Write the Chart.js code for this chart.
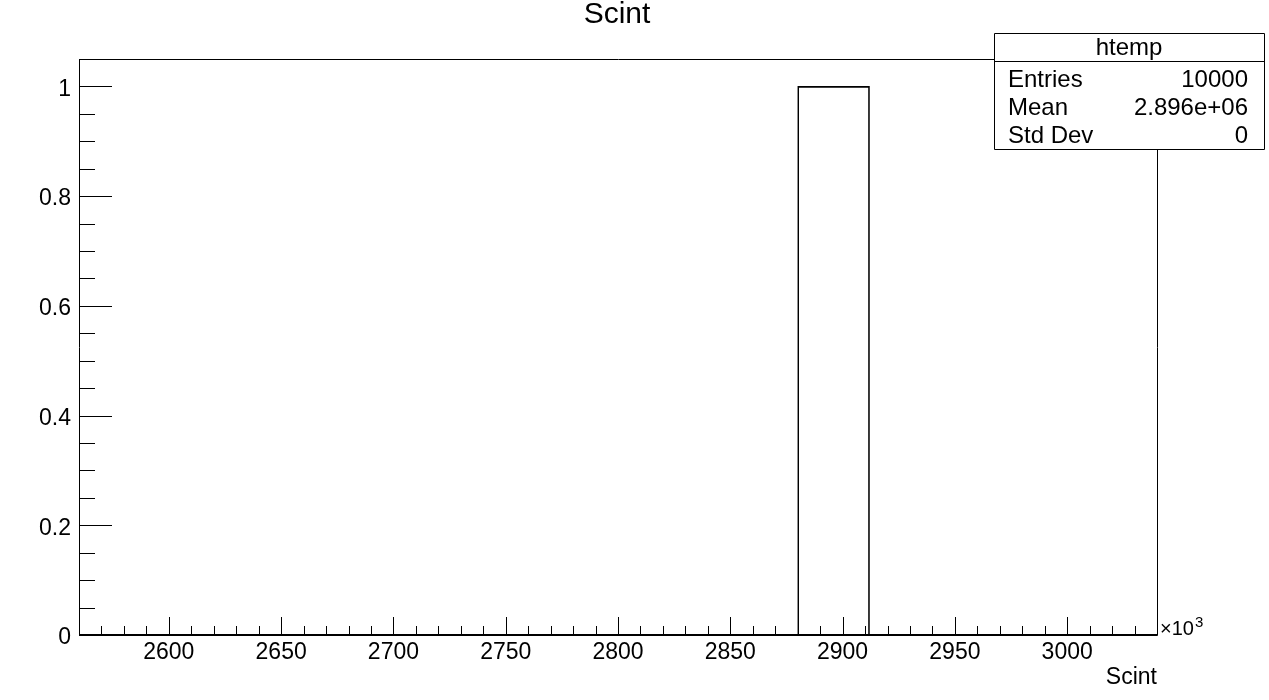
<!DOCTYPE html>
<html>
<head>
<meta charset="utf-8">
<script src="https://cdn.jsdelivr.net/npm/chart.js@4.4.1/dist/chart.umd.min.js"></script>
<style>
  html, body { margin: 0; padding: 0; background: #fff; }
  #wrap { width: 1269px; height: 700px; }
</style>
</head>
<body>
<div id="wrap"><canvas id="scint" width="1269" height="700"></canvas></div>
<script>
// histogram bins (x in units of 10^3)
var binCenters = [2576, 2608, 2640, 2672, 2704, 2736, 2768, 2800, 2832, 2864, 2896, 2928, 2960, 2992, 3024];
var binCounts  = [0, 0, 0, 0, 0, 0, 0, 0, 0, 0, 1, 0, 0, 0, 0];
var xTicks = [2600, 2650, 2700, 2750, 2800, 2850, 2900, 2950, 3000];
var yTicks = [0, 0.2, 0.4, 0.6, 0.8, 1];
var statsLabels = ["Entries", "Mean", "Std Dev"];
var statsValues = ["10000", "2.896e+06", "0"];

var FONT = "'Liberation Sans', Arial, Helvetica, sans-serif";

var rootFrame = {
  id: 'rootFrame',
  afterDraw: function(chart) {
    var c = chart.ctx, a = chart.chartArea;
    var xs = chart.scales.x, ys = chart.scales.y;
    c.save();
    c.strokeStyle = '#000';
    c.lineWidth = 1;
    c.beginPath();
    c.rect(a.left + 0.5, a.top + 0.5, a.right - a.left, a.bottom - a.top);
    c.stroke();
    // x axis line (a bit heavier, like ROOT)
    c.lineWidth = 2;
    c.beginPath();
    c.moveTo(a.left, a.bottom); c.lineTo(a.right, a.bottom);
    c.stroke();
    c.lineWidth = 1;
    c.beginPath();
    // x ticks: major 50, minor 10
    for (var v = 2570; v <= 3030; v += 10) {
      var px = Math.round(xs.getPixelForValue(v)) + 0.5;
      var len = (v % 50 === 0) ? 18 : 9;
      c.moveTo(px, a.bottom); c.lineTo(px, a.bottom - len);
    }
    // y ticks: major 0.2, minor 0.05
    for (var i = 1; i <= 21; i++) {
      var yv = i * 0.05;
      var py = Math.round(ys.getPixelForValue(yv)) + 0.5;
      var l2 = (i % 4 === 0) ? 33 : 16;
      c.moveTo(a.left, py); c.lineTo(a.left + l2, py);
    }
    c.stroke();

    // x10^3 and axis title
    c.fillStyle = '#000';
    c.textBaseline = 'alphabetic';
    c.textAlign = 'left';
    c.font = '20px ' + FONT;
    c.fillText('\u00d710', a.right + 3, a.bottom);
    var w = c.measureText('\u00d710').width;
    c.font = '15px ' + FONT;
    c.fillText('3', a.right + 4 + w, a.bottom - 8);
    c.font = '23px ' + FONT;
    c.textAlign = 'right';
    c.fillText('Scint', a.right, a.bottom + 49);

    // title
    c.textAlign = 'center';
    c.font = '30px ' + FONT;
    c.fillText('Scint', 617, 23);

    // stats box
    var bx = 994, by = 33, bw = 270, bh = 116;
    c.fillStyle = '#fff';
    c.fillRect(bx, by, bw, bh);
    c.beginPath();
    c.rect(bx + 0.5, by + 0.5, bw, bh);
    c.moveTo(bx, by + 28.5); c.lineTo(bx + bw, by + 28.5);
    c.stroke();
    c.fillStyle = '#000';
    c.font = '24px ' + FONT;
    c.textAlign = 'center';
    c.fillText('htemp', bx + bw / 2, by + 22);
    for (var k = 0; k < statsLabels.length; k++) {
      var ty = by + 54 + k * 28;
      c.textAlign = 'left';
      c.fillText(statsLabels[k], bx + 14, ty);
      c.textAlign = 'right';
      c.fillText(statsValues[k], bx + bw - 16, ty);
    }
    c.restore();
  }
};

var ctx = document.getElementById('scint').getContext('2d');
var scintChart = new Chart(ctx, {
  type: 'bar',
  data: {
    datasets: [{
      label: 'htemp',
      data: binCenters.map(function(x, i) { return { x: x, y: binCounts[i] }; }),
      backgroundColor: 'rgba(0,0,0,0)',
      borderColor: '#000',
      borderWidth: 1,
      barPercentage: 1,
      categoryPercentage: 1
    }]
  },
  options: {
    responsive: false,
    animation: false,
    layout: { padding: { top: 59, right: 112, bottom: 0, left: 0 } },
    plugins: { legend: { display: false }, tooltip: { enabled: false }, title: { display: false } },
    scales: {
      x: {
        type: 'linear',
        min: 2560, max: 3040,
        offset: false,
        grid: { display: false },
        border: { display: false },
        afterBuildTicks: function(s) { s.ticks = xTicks.map(function(v) { return { value: v }; }); },
        afterFit: function(s) { s.height = 65; },
        ticks: {
          color: '#000', padding: -4, maxRotation: 0, autoSkip: false, font: { family: FONT, size: 23 },
          callback: function(v) { return String(v); }
        }
      },
      y: {
        min: 0, max: 1.05,
        grid: { display: false },
        border: { display: false },
        afterBuildTicks: function(s) { s.ticks = yTicks.map(function(v) { return { value: v }; }); },
        afterFit: function(s) { s.width = 79; },
        ticks: {
          color: '#000', padding: 0, labelOffset: 3, font: { family: FONT, size: 23 },
          callback: function(v) { return String(+v.toFixed(2)); }
        }
      }
    }
  },
  plugins: [rootFrame]
});
</script>
</body>
</html>
